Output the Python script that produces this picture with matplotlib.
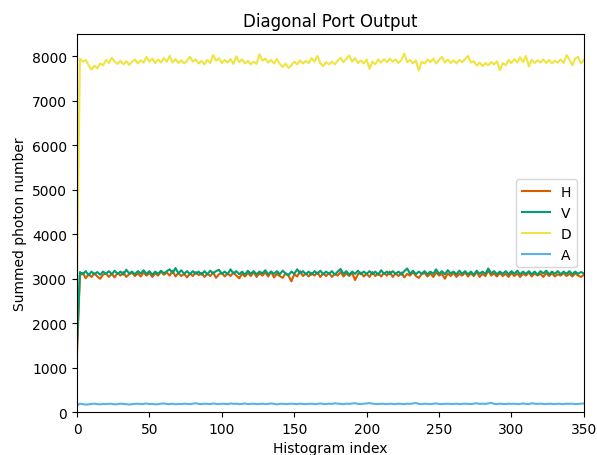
import numpy as np
import matplotlib
matplotlib.use('Agg')
import matplotlib.pyplot as plt

# every second histogram bin
hist_index = np.arange(0, 351, 2)

port_h = [
    1300, 3080, 3130, 3010, 3100, 3040, 3120, 3050, 3000, 3090,
    3120, 3040, 3110, 3030, 3130, 3070, 3150, 3040, 3100, 3130,
    3060, 3120, 3050, 3140, 3070, 3130, 3040, 3120, 3070, 3160,
    3090, 3140, 3070, 3180, 3050, 3130, 3060, 3110, 3030, 3120,
    3060, 3150, 3080, 3130, 3040, 3110, 3060, 3140, 3020, 3100,
    3130, 3050, 3120, 3060, 3140, 3070, 3010, 3110, 3050, 3130,
    3060, 3150, 3040, 3120, 3070, 3140, 3050, 3160, 3030, 3110,
    3060, 3020, 3120, 3070, 2940, 3100, 3050, 3170, 3060, 3120,
    3050, 3130, 3070, 3140, 3040, 3120, 3060, 3130, 3040, 3110,
    3070, 3150, 3050, 3120, 3060, 3130, 2970, 3100, 3140, 3050,
    3110, 3040, 3150, 3060, 3120, 3050, 3130, 3070, 3160, 3040,
    3120, 3060, 3140, 3030, 3110, 3070, 3150, 3060, 3020, 3100,
    3130, 3050, 3120, 3040, 3140, 3070, 3110, 3000, 3120, 3060,
    3130, 3040, 3110, 3070, 3140, 3050, 3120, 3060, 3150, 3040,
    3110, 3060, 3180, 3070, 3120, 3050, 3130, 3060, 3110, 3040,
    3130, 3060, 3120, 3040, 3110, 3070, 3140, 3050, 3120, 3070,
    3110, 3040, 3130, 3060, 3120, 3050, 3100, 3070, 3130, 3060,
    3110, 3050, 3120, 3070, 3040, 3090,
]

port_v = [
    1500, 3150, 3100, 3170, 3080, 3160, 3100, 3150, 3090, 3160,
    3110, 3170, 3100, 3180, 3110, 3160, 3090, 3200, 3120, 3160,
    3100, 3170, 3120, 3190, 3110, 3170, 3090, 3160, 3110, 3180,
    3120, 3170, 3210, 3130, 3240, 3120, 3190, 3110, 3170, 3100,
    3170, 3110, 3160, 3090, 3170, 3100, 3180, 3120, 3170, 3200,
    3110, 3160, 3100, 3210, 3120, 3170, 3100, 3160, 3090, 3180,
    3110, 3170, 3100, 3160, 3120, 3190, 3100, 3160, 3110, 3170,
    3100, 3180, 3120, 3080, 3160, 3110, 3210, 3120, 3170, 3100,
    3160, 3090, 3170, 3110, 3180, 3100, 3160, 3110, 3170, 3090,
    3160, 3220, 3110, 3170, 3090, 3160, 3110, 3180, 3100, 3160,
    3110, 3170, 3100, 3160, 3090, 3190, 3110, 3160, 3100, 3170,
    3110, 3160, 3090, 3170, 3230, 3110, 3180, 3100, 3160, 3110,
    3170, 3100, 3160, 3110, 3210, 3110, 3170, 3100, 3190, 3120,
    3160, 3100, 3180, 3110, 3170, 3100, 3160, 3090, 3180, 3110,
    3160, 3110, 3230, 3120, 3170, 3100, 3160, 3110, 3170, 3100,
    3170, 3110, 3180, 3100, 3160, 3110, 3170, 3100, 3160, 3090,
    3170, 3120, 3180, 3100, 3160, 3110, 3170, 3100, 3160, 3110,
    3170, 3100, 3160, 3110, 3150, 3120,
]

port_d = [
    3000, 7950, 7880, 7920, 7800, 7700, 7790, 7730, 7840, 7800,
    7920, 7850, 7970, 7880, 7830, 7900, 7820, 7890, 7810, 7880,
    7930, 7840, 7910, 7860, 7990, 7880, 7950, 7850, 7930, 7860,
    7960, 7880, 8010, 7860, 7940, 7850, 7910, 7840, 7900, 7990,
    7880, 7930, 7840, 7900, 7820, 7920, 7850, 8030, 7900, 7960,
    7850, 7920, 7860, 7940, 7830, 8000, 7870, 7930, 7840, 7900,
    7820, 7880, 7830, 8050, 7900, 7950, 7860, 7920, 7840, 7940,
    7830, 7760, 7840, 7740, 7800, 7880, 7820, 7910, 7840, 7900,
    7850, 7960, 7880, 8010, 7850, 7780, 7870, 7820, 7880, 7820,
    7900, 7970, 7870, 7950, 8020, 7880, 7960, 7850, 7910, 7840,
    7930, 7720, 7880, 7820, 7930, 7860, 7940, 7870, 7950, 7880,
    7930, 7850, 7920, 8060, 7870, 7920, 7840, 7910, 7680, 7880,
    7840, 7930, 7870, 7950, 7840, 7920, 7990, 7860, 7930, 7850,
    7910, 7840, 7920, 7870, 7940, 8010, 7860, 7890, 7790, 7860,
    7780, 7850, 7800, 7870, 7820, 7890, 7690, 7850, 7800, 7920,
    7850, 7940, 7860, 7980, 7870, 8010, 7770, 7920, 7850, 7910,
    7860, 7930, 7850, 7920, 7840, 7900, 7860, 7930, 7850, 8030,
    7930, 7800, 7950, 7990, 7840, 7920,
]

port_a = [
    150, 190, 180, 170, 175, 185, 190, 180, 175, 185,
    180, 190, 185, 175, 180, 190, 185, 180, 170, 180,
    185, 190, 180, 185, 195, 180, 185, 175, 180, 190,
    195, 185, 180, 190, 175, 185, 180, 190, 185, 180,
    190, 200, 185, 180, 190, 185, 180, 195, 185, 180,
    190, 185, 180, 195, 185, 190, 180, 185, 195, 180,
    185, 190, 180, 185, 190, 180, 185, 195, 185, 175,
    185, 190, 180, 185, 190, 185, 180, 190, 185, 180,
    185, 190, 180, 185, 195, 185, 180, 190, 185, 200,
    190, 185, 180, 190, 185, 195, 200, 185, 180, 190,
    195, 205, 190, 185, 180, 190, 185, 180, 190, 185,
    180, 190, 185, 180, 190, 185, 195, 205, 185, 180,
    190, 185, 180, 190, 195, 185, 180, 185, 190, 180,
    185, 190, 180, 185, 190, 185, 180, 190, 200, 185,
    190, 185, 195, 210, 185, 180, 190, 185, 180, 190,
    185, 190, 180, 185, 195, 185, 180, 200, 190, 185,
    190, 185, 180, 190, 185, 180, 190, 185, 180, 190,
    185, 190, 180, 185, 190, 195,
]

fig = plt.figure(figsize=(5.97, 4.56), dpi=100)
ax = fig.add_axes([0.129, 0.094, 0.849, 0.829])

ax.plot(hist_index, port_h, color='#D55E00', label='H')
ax.plot(hist_index, port_v, color='#009E73', label='V')
ax.plot(hist_index, port_d, color='#F0E442', label='D')
ax.plot(hist_index, port_a, color='#56B4E9', label='A')

ax.set_xlim(0, 350)
ax.set_ylim(0, 8500)
ax.set_title('Diagonal Port Output')
ax.set_xlabel('Histogram index')
ax.set_ylabel('Summed photon number')
ax.legend(loc='center right')

fig.savefig('out.png', dpi=100)
